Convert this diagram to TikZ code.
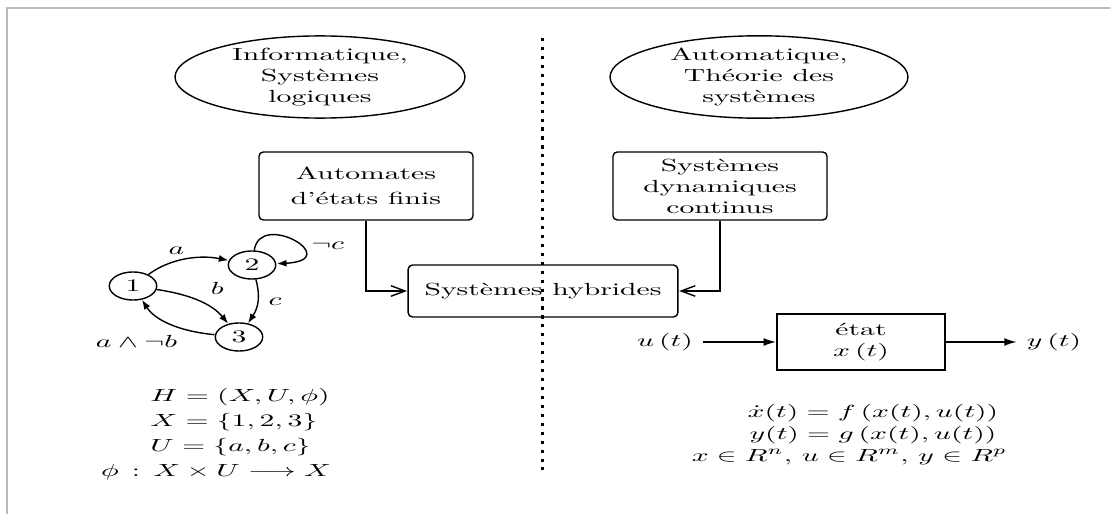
\documentclass[tikz,border=0pt]{standalone}
\usepackage{amsmath}
\usetikzlibrary{shapes.geometric,arrows.meta}
\begin{document}
\begin{tikzpicture}[xscale=1.69, x=0.3373pt, y=-0.57pt,
  every node/.append style={transform shape},
  ell/.style={ellipse, draw, line width=0.8pt, inner sep=0pt, minimum height=45.6pt, align=center},
  rbox/.style={rectangle, draw, line width=0.8pt, rounded corners=2.5pt, minimum width=72.2pt, minimum height=38.8pt, align=center, inner sep=2pt},
  sbox/.style={rectangle, draw, line width=0.8pt, minimum width=56.7pt, minimum height=31.9pt, align=center, inner sep=2pt},
  st/.style={circle, draw, line width=0.8pt, minimum size=16pt, inner sep=1pt},
  conn/.style={line width=0.8pt, -{Straight Barb[length=8pt,width=6pt]}},
  farr/.style={line width=0.8pt, -{Latex[length=7pt,width=4.5pt]}},
  garr/.style={line width=0.8pt, -{Latex[length=5.5pt,width=4pt]}},
  dotline/.style={line width=1.8pt, dash pattern=on 1.8pt off 3.3pt},
  frame/.style={line width=1.2pt, draw=gray!55}
]
\useasboundingbox (0,0) rectangle (1110,514);
\draw[frame] (7,514) -- (7,8) -- (1110,8);

% top ellipses
\node[ell, minimum width=97.8pt] (ellL) at (320,77) {Informatique,\\Systèmes\\logiques};
\node[ell, minimum width=100.5pt] (ellR) at (759,77) {Automatique,\\Théorie des\\systèmes};

% boxes
\node[rbox] (boxL) at (366,186) {Automates\\[2pt]d'états finis};
\node[rbox] (boxR) at (720,186) {Systèmes\\dynamiques\\continus};
\node[rbox, minimum width=91pt, minimum height=29.6pt] (hyb) at (543,291) {Systèmes hybrides};

\draw[conn] (boxL.south) |- (hyb.west);
\draw[conn] (boxR.south) |- (hyb.east);

% dotted separator
\coordinate (dt) at (542,38);
\coordinate (db) at (542,470);
\draw[dotline] (dt) -- (db);

% automaton
\node[st] (n1) at (133,286) {1};
\node[st] (n2) at (252,265) {2};
\node[st] (n3) at (239,337) {3};
\draw[garr] (n1) to[bend left=35] node[pos=0.4, above] {$a$} (n2);
\draw[garr] (n2) to[out=85, in=5, looseness=5.5] node[pos=0.6, right] {$\neg c$} (n2);
\draw[garr] (n2) to[bend left=15] node[right] {$c$} (n3);
\draw[garr] (n1) to[bend left=25] node[pos=0.5, above right] {$b$} (n3);
\draw[garr] (n3) to[bend left=30] node[pos=0.45, below left, xshift=5pt, yshift=-2pt] {$a\wedge\neg b$} (n1);

% left equations
\node[anchor=base west] (h1) at (140,402) {$H=\left(X,U,\phi\right)$};
\node[anchor=base west] (h2) at (140,427) {$X=\left\{1,2,3\right\}$};
\node[anchor=base west] (h3) at (140,452) {$U=\left\{a,b,c\right\}$};
\node[anchor=base] (h4) at (216,477) {$\phi\,:\,X\times U\longrightarrow X$};

% state-space block
\node[sbox] (stb) at (861,342) {état\\$x\left(t\right)$};
\node (u) at (665,342) {$u\left(t\right)$};
\node (y) at (1054,342) {$y\left(t\right)$};
\draw[farr] (u) -- (stb);
\draw[farr] (stb) -- (y);

% right equations
\node[align=center, anchor=north, inner sep=0pt] (eqR) at (873,404)
  {$\dot{x}(t)=f\left(x(t),u(t)\right)$\\[0.5pt]
   $y(t)=g\left(x(t),u(t)\right)$\\[0.5pt]
   $x\in R^n,\,u\in R^m,\,y\in R^p$\hspace*{16pt}};
\end{tikzpicture}
\end{document}
